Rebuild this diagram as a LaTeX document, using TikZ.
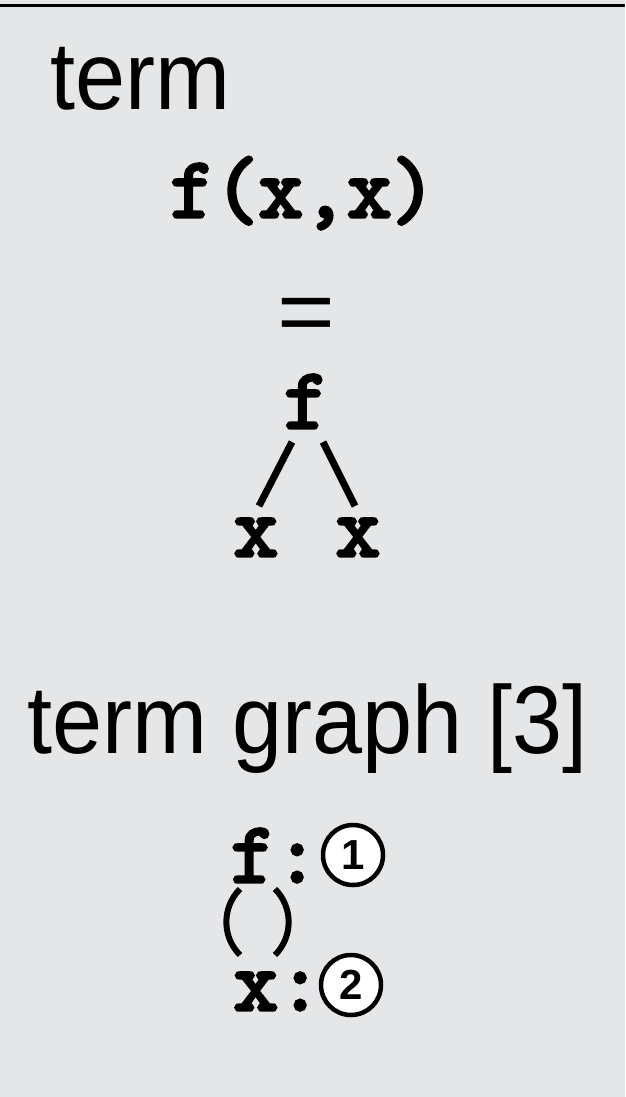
\documentclass[tikz,border=0pt]{standalone}
\usepackage{fontspec}
\setmainfont{Liberation Sans}
\newfontfamily\codefont{Latin Modern Mono}[FakeBold=4]
\definecolor{bg}{HTML}{E5E6E8}
\begin{document}
\begin{tikzpicture}[x=1pt,y=-1pt,
  lbl/.style={inner sep=0pt, anchor=base west, font=\fontsize{90}{90}\selectfont},
  code/.style={inner sep=0pt, anchor=base, font=\fontsize{86}{86}\codefont},
  treeedge/.style={line width=7pt},
  paren/.style={line width=6pt},
  refcirc/.style={circle, draw, line width=4.5pt, fill=white, minimum size=60pt, inner sep=0pt, font=\fontsize{42}{42}\selectfont}]
\fill[bg] (0,0) rectangle (625,1097);
\useasboundingbox (0,0) rectangle (625,1097);
\fill[black] (0,4) rectangle (625,7);
% headings
\node[lbl] (h1) at (50.5,110) {\scalebox{1}[1.07]{term}};
\node[lbl] (h2) at (27.5,753) {\scalebox{1}[1.07]{term graph [3]}};
% term
\node[code] (term) at (303,217) {f(x,x)};
\node[inner sep=0pt, anchor=base, font=\fontsize{90}{90}\selectfont] (eq) at (306,342) {\scalebox{1.1}[1]{=}};
% tree
\node[code] (tf) at (306,428) {f};
\node[code] (tx1) at (256,556) {x};
\node[code] (tx2) at (358,556) {x};
\coordinate (l1) at (292,442);
\coordinate (l2) at (259,506);
\coordinate (r1) at (323,442);
\coordinate (r2) at (355,506);
\draw[treeedge] (l1) -- (l2);
\draw[treeedge] (r1) -- (r2);
% term graph
\node[code] (gf) at (275,882) {f:};
\node[code] (gx) at (278,1010) {x:};
\node[refcirc] (c1) at (353,855) {\textbf{1}};
\node[refcirc] (c2) at (351,985) {\textbf{2}};
\coordinate (p1) at (240,889);
\coordinate (p2) at (240,955);
\coordinate (q1) at (275,889);
\coordinate (q2) at (275,955);
\draw[paren] (p1) to[bend right=45] (p2);
\draw[paren] (q1) to[bend left=45] (q2);
\end{tikzpicture}
\end{document}
